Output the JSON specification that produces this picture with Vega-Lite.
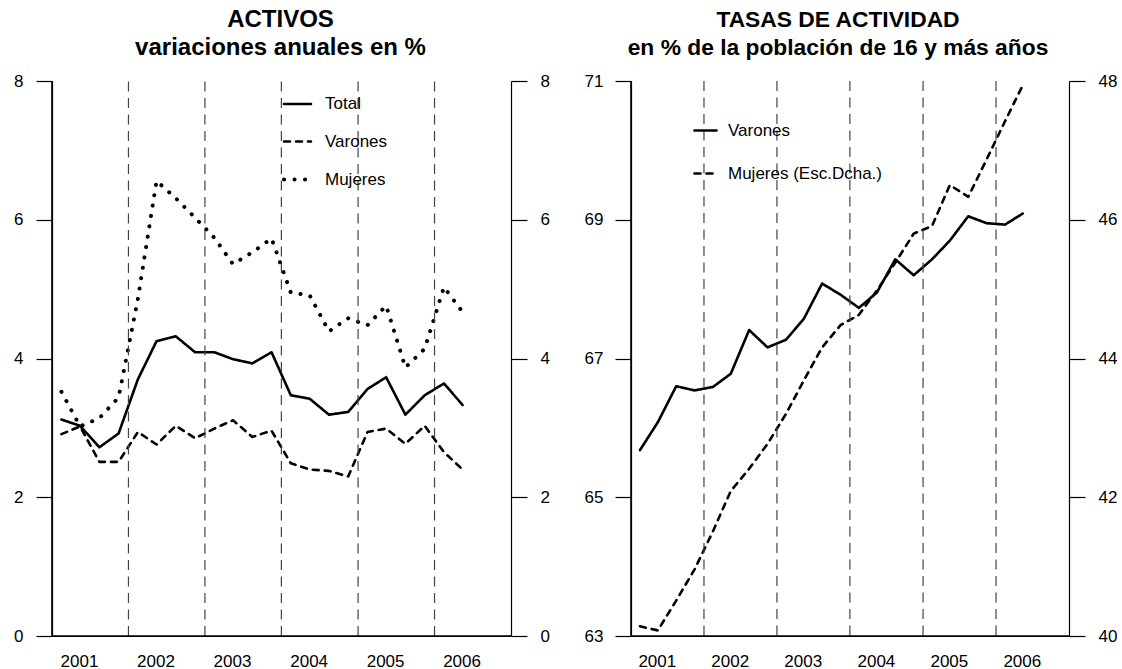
{
  "$schema": "https://vega.github.io/schema/vega-lite/v6.json",
  "padding": {"left": 0, "top": 8, "right": 0, "bottom": 0},
  "background": "white",
  "spacing": 30,
  "resolve": {"scale": {"strokeDash": "independent", "strokeWidth": "independent"}, "legend": {"strokeDash": "independent", "strokeWidth": "independent"}},
  "config": {
    "font": "Liberation Sans",
    "view": {"stroke": null},
    "title": {"font": "Liberation Sans", "fontWeight": "bold", "lineHeight": 28, "color": "black", "anchor": "middle", "offset": 12},
    "axis": {"labelFont": "Liberation Sans", "labelFontSize": 17, "labelColor": "black", "domainColor": "black", "tickColor": "black", "domainWidth": 1.2, "tickWidth": 1.2, "grid": false, "title": null},
    "legend": {"labelFont": "Liberation Sans", "labelFontSize": 17, "labelColor": "black"}
  },
  "datasets": {
    "bordes": [{"fecha": "2001-01-01"}],
    "cortes": [
      {"fecha": "2002-01-01"}, {"fecha": "2003-01-01"}, {"fecha": "2004-01-01"}, {"fecha": "2005-01-01"}, {"fecha": "2006-01-01"}
    ],
    "activos": [
      {"fecha": "2001-02-15", "serie": "Total", "valor": 3.12},
      {"fecha": "2001-05-15", "serie": "Total", "valor": 3.03},
      {"fecha": "2001-08-15", "serie": "Total", "valor": 2.72},
      {"fecha": "2001-11-15", "serie": "Total", "valor": 2.92},
      {"fecha": "2002-02-15", "serie": "Total", "valor": 3.70},
      {"fecha": "2002-05-15", "serie": "Total", "valor": 4.25},
      {"fecha": "2002-08-15", "serie": "Total", "valor": 4.32},
      {"fecha": "2002-11-15", "serie": "Total", "valor": 4.09},
      {"fecha": "2003-02-15", "serie": "Total", "valor": 4.09},
      {"fecha": "2003-05-15", "serie": "Total", "valor": 3.99},
      {"fecha": "2003-08-15", "serie": "Total", "valor": 3.93},
      {"fecha": "2003-11-15", "serie": "Total", "valor": 4.09},
      {"fecha": "2004-02-15", "serie": "Total", "valor": 3.47},
      {"fecha": "2004-05-15", "serie": "Total", "valor": 3.42},
      {"fecha": "2004-08-15", "serie": "Total", "valor": 3.19},
      {"fecha": "2004-11-15", "serie": "Total", "valor": 3.23},
      {"fecha": "2005-02-15", "serie": "Total", "valor": 3.56},
      {"fecha": "2005-05-15", "serie": "Total", "valor": 3.73},
      {"fecha": "2005-08-15", "serie": "Total", "valor": 3.19},
      {"fecha": "2005-11-15", "serie": "Total", "valor": 3.47},
      {"fecha": "2006-02-15", "serie": "Total", "valor": 3.64},
      {"fecha": "2006-05-15", "serie": "Total", "valor": 3.33},
      {"fecha": "2001-02-15", "serie": "Varones", "valor": 2.91},
      {"fecha": "2001-05-15", "serie": "Varones", "valor": 3.02},
      {"fecha": "2001-08-15", "serie": "Varones", "valor": 2.51},
      {"fecha": "2001-11-15", "serie": "Varones", "valor": 2.51},
      {"fecha": "2002-02-15", "serie": "Varones", "valor": 2.94},
      {"fecha": "2002-05-15", "serie": "Varones", "valor": 2.76},
      {"fecha": "2002-08-15", "serie": "Varones", "valor": 3.03},
      {"fecha": "2002-11-15", "serie": "Varones", "valor": 2.85},
      {"fecha": "2003-02-15", "serie": "Varones", "valor": 2.99},
      {"fecha": "2003-05-15", "serie": "Varones", "valor": 3.11},
      {"fecha": "2003-08-15", "serie": "Varones", "valor": 2.87},
      {"fecha": "2003-11-15", "serie": "Varones", "valor": 2.96},
      {"fecha": "2004-02-15", "serie": "Varones", "valor": 2.49},
      {"fecha": "2004-05-15", "serie": "Varones", "valor": 2.40},
      {"fecha": "2004-08-15", "serie": "Varones", "valor": 2.38},
      {"fecha": "2004-11-15", "serie": "Varones", "valor": 2.30},
      {"fecha": "2005-02-15", "serie": "Varones", "valor": 2.94},
      {"fecha": "2005-05-15", "serie": "Varones", "valor": 2.99},
      {"fecha": "2005-08-15", "serie": "Varones", "valor": 2.77},
      {"fecha": "2005-11-15", "serie": "Varones", "valor": 3.03},
      {"fecha": "2006-02-15", "serie": "Varones", "valor": 2.65},
      {"fecha": "2006-05-15", "serie": "Varones", "valor": 2.40},
      {"fecha": "2001-02-15", "serie": "Mujeres", "valor": 3.52},
      {"fecha": "2001-05-15", "serie": "Mujeres", "valor": 3.02},
      {"fecha": "2001-08-15", "serie": "Mujeres", "valor": 3.14},
      {"fecha": "2001-11-15", "serie": "Mujeres", "valor": 3.44},
      {"fecha": "2002-02-15", "serie": "Mujeres", "valor": 4.86},
      {"fecha": "2002-05-15", "serie": "Mujeres", "valor": 6.56},
      {"fecha": "2002-08-15", "serie": "Mujeres", "valor": 6.31},
      {"fecha": "2002-11-15", "serie": "Mujeres", "valor": 6.03},
      {"fecha": "2003-02-15", "serie": "Mujeres", "valor": 5.74},
      {"fecha": "2003-05-15", "serie": "Mujeres", "valor": 5.36},
      {"fecha": "2003-08-15", "serie": "Mujeres", "valor": 5.53},
      {"fecha": "2003-11-15", "serie": "Mujeres", "valor": 5.73},
      {"fecha": "2004-02-15", "serie": "Mujeres", "valor": 4.95},
      {"fecha": "2004-05-15", "serie": "Mujeres", "valor": 4.91},
      {"fecha": "2004-08-15", "serie": "Mujeres", "valor": 4.39},
      {"fecha": "2004-11-15", "serie": "Mujeres", "valor": 4.58},
      {"fecha": "2005-02-15", "serie": "Mujeres", "valor": 4.48},
      {"fecha": "2005-05-15", "serie": "Mujeres", "valor": 4.76},
      {"fecha": "2005-08-15", "serie": "Mujeres", "valor": 3.87},
      {"fecha": "2005-11-15", "serie": "Mujeres", "valor": 4.14},
      {"fecha": "2006-02-15", "serie": "Mujeres", "valor": 5.03},
      {"fecha": "2006-05-15", "serie": "Mujeres", "valor": 4.67}
    ],
    "tasas": [
      {"fecha": "2001-02-15", "serie": "Varones", "valor": 65.68},
      {"fecha": "2001-05-15", "serie": "Varones", "valor": 66.08},
      {"fecha": "2001-08-15", "serie": "Varones", "valor": 66.60},
      {"fecha": "2001-11-15", "serie": "Varones", "valor": 66.54},
      {"fecha": "2002-02-15", "serie": "Varones", "valor": 66.59},
      {"fecha": "2002-05-15", "serie": "Varones", "valor": 66.78},
      {"fecha": "2002-08-15", "serie": "Varones", "valor": 67.41},
      {"fecha": "2002-11-15", "serie": "Varones", "valor": 67.16},
      {"fecha": "2003-02-15", "serie": "Varones", "valor": 67.27},
      {"fecha": "2003-05-15", "serie": "Varones", "valor": 67.57},
      {"fecha": "2003-08-15", "serie": "Varones", "valor": 68.08},
      {"fecha": "2003-11-15", "serie": "Varones", "valor": 67.92},
      {"fecha": "2004-02-15", "serie": "Varones", "valor": 67.73},
      {"fecha": "2004-05-15", "serie": "Varones", "valor": 67.95},
      {"fecha": "2004-08-15", "serie": "Varones", "valor": 68.43},
      {"fecha": "2004-11-15", "serie": "Varones", "valor": 68.20},
      {"fecha": "2005-02-15", "serie": "Varones", "valor": 68.43},
      {"fecha": "2005-05-15", "serie": "Varones", "valor": 68.70},
      {"fecha": "2005-08-15", "serie": "Varones", "valor": 69.05},
      {"fecha": "2005-11-15", "serie": "Varones", "valor": 68.95},
      {"fecha": "2006-02-15", "serie": "Varones", "valor": 68.93},
      {"fecha": "2006-05-15", "serie": "Varones", "valor": 69.09},
      {"fecha": "2001-02-15", "serie": "Mujeres (Esc.Dcha.)", "valor": 40.14},
      {"fecha": "2001-05-15", "serie": "Mujeres (Esc.Dcha.)", "valor": 40.08},
      {"fecha": "2001-08-15", "serie": "Mujeres (Esc.Dcha.)", "valor": 40.51},
      {"fecha": "2001-11-15", "serie": "Mujeres (Esc.Dcha.)", "valor": 40.96},
      {"fecha": "2002-02-15", "serie": "Mujeres (Esc.Dcha.)", "valor": 41.51},
      {"fecha": "2002-05-15", "serie": "Mujeres (Esc.Dcha.)", "valor": 42.09},
      {"fecha": "2002-08-15", "serie": "Mujeres (Esc.Dcha.)", "valor": 42.41},
      {"fecha": "2002-11-15", "serie": "Mujeres (Esc.Dcha.)", "valor": 42.77},
      {"fecha": "2003-02-15", "serie": "Mujeres (Esc.Dcha.)", "valor": 43.20},
      {"fecha": "2003-05-15", "serie": "Mujeres (Esc.Dcha.)", "valor": 43.68},
      {"fecha": "2003-08-15", "serie": "Mujeres (Esc.Dcha.)", "valor": 44.16},
      {"fecha": "2003-11-15", "serie": "Mujeres (Esc.Dcha.)", "valor": 44.48},
      {"fecha": "2004-02-15", "serie": "Mujeres (Esc.Dcha.)", "valor": 44.63},
      {"fecha": "2004-05-15", "serie": "Mujeres (Esc.Dcha.)", "valor": 44.98},
      {"fecha": "2004-08-15", "serie": "Mujeres (Esc.Dcha.)", "valor": 45.38},
      {"fecha": "2004-11-15", "serie": "Mujeres (Esc.Dcha.)", "valor": 45.80},
      {"fecha": "2005-02-15", "serie": "Mujeres (Esc.Dcha.)", "valor": 45.91},
      {"fecha": "2005-05-15", "serie": "Mujeres (Esc.Dcha.)", "valor": 46.50},
      {"fecha": "2005-08-15", "serie": "Mujeres (Esc.Dcha.)", "valor": 46.33},
      {"fecha": "2005-11-15", "serie": "Mujeres (Esc.Dcha.)", "valor": 46.87},
      {"fecha": "2006-02-15", "serie": "Mujeres (Esc.Dcha.)", "valor": 47.42},
      {"fecha": "2006-05-15", "serie": "Mujeres (Esc.Dcha.)", "valor": 47.94}
    ]
  },
  "hconcat": [
    {
      "width": 459,
      "height": 555,
      "title": {"text": ["ACTIVOS", "variaciones anuales en %"], "dx": -1, "fontSize": 24},
      "layer": [
        {
          "data": {"name": "activos"},
          "mark": {"type": "line", "color": "black", "strokeCap": "round", "strokeJoin": "round"},
          "encoding": {
            "x": {
              "field": "fecha", "type": "temporal",
              "scale": {"type": "utc", "domain": ["2001-01-01", "2007-01-01"]},
              "axis": {"values": ["2001-05-10", "2002-05-10", "2003-05-10", "2004-05-10", "2005-05-10", "2006-05-10"], "format": "%Y", "tickSize": 0, "labelPadding": 17, "labelFlush": false, "labelOverlap": false, "title": null}
            },
            "y": {"field": "valor", "type": "quantitative", "scale": {"domain": [0, 8]}, "axis": {"orient": "left", "values": [0, 2, 4, 6, 8], "tickSize": 16, "labelPadding": 13, "minExtent": 52, "maxExtent": 52, "title": null}},
            "strokeDash": {
              "field": "serie", "type": "nominal",
              "scale": {"domain": ["Total", "Varones", "Mujeres"], "range": [[1, 0], [6, 6], [0.1, 10.4]]},
              "legend": {"title": null, "orient": "none", "legendX": 230, "legendY": 8, "padding": 0, "symbolType": "stroke", "symbolSize": 729, "symbolStrokeColor": "black", "labelOffset": 12, "rowPadding": 14.5, "encode": {"symbols": {"update": {"strokeCap": {"value": "round"}, "strokeWidth": {"signal": "datum.value === 'Mujeres' ? 4 : 2.6"}}}}}
            },
            "strokeWidth": {
              "field": "serie", "type": "nominal",
              "scale": {"type": "ordinal", "domain": ["Total", "Varones", "Mujeres"], "range": [2.6, 2.6, 4]},
              "legend": null
            }
          }
        },
        {
          "data": {"name": "cortes"},
          "mark": {"type": "rule", "strokeDash": [10, 6.5], "color": "#444", "strokeWidth": 1.2},
          "encoding": {
            "x": {
              "field": "fecha", "type": "temporal",
              "scale": {"type": "utc", "domain": ["2001-01-01", "2007-01-01"]},
              "axis": {"values": ["2001-05-10", "2002-05-10", "2003-05-10", "2004-05-10", "2005-05-10", "2006-05-10"], "format": "%Y", "tickSize": 0, "labelPadding": 17, "labelFlush": false, "labelOverlap": false, "title": null}
            },
            "y": {"datum": 0, "type": "quantitative", "axis": {"orient": "right", "values": [0, 2, 4, 6, 8], "tickSize": 16, "labelPadding": 13, "minExtent": 40, "maxExtent": 40, "title": null}},
            "y2": {"datum": 8}
          }
        },
        {
          "data": {"name": "bordes"},
          "mark": {"type": "rule", "color": "black", "strokeWidth": 1.6},
          "encoding": {
            "x": {
              "field": "fecha", "type": "temporal",
              "scale": {"type": "utc", "domain": ["2001-01-01", "2007-01-01"]},
              "axis": {"values": ["2001-05-10", "2002-05-10", "2003-05-10", "2004-05-10", "2005-05-10", "2006-05-10"], "format": "%Y", "tickSize": 0, "labelPadding": 17, "labelFlush": false, "labelOverlap": false, "title": null}
            }
          }
        },
        {
          "data": {"name": "bordes"},
          "mark": {"type": "rule", "color": "black", "strokeWidth": 1.6},
          "encoding": {
            "y": {"datum": 0, "type": "quantitative", "axis": null}
          }
        }
      ],
      "resolve": {"axis": {"y": "independent"}}
    },
    {
      "width": 438,
      "height": 555,
      "title": {"text": ["TASAS DE ACTIVIDAD", "en % de la población de 16 y más años"], "dx": -12, "fontSize": 22.8},
      "layer": [
        {
          "data": {"name": "tasas"},
          "transform": [{"filter": "datum.serie === 'Varones'"}],
          "mark": {"type": "line", "color": "black", "strokeWidth": 2.6, "strokeCap": "round", "strokeJoin": "round"},
          "encoding": {
            "x": {
              "field": "fecha", "type": "temporal",
              "scale": {"type": "utc", "domain": ["2001-01-01", "2007-01-01"]},
              "axis": {"values": ["2001-05-10", "2002-05-10", "2003-05-10", "2004-05-10", "2005-05-10", "2006-05-10"], "format": "%Y", "tickSize": 0, "labelPadding": 17, "labelFlush": false, "labelOverlap": false, "title": null}
            },
            "y": {"field": "valor", "type": "quantitative", "scale": {"domain": [63, 71]}, "axis": {"orient": "left", "values": [63, 65, 67, 69, 71], "tickSize": 16, "labelPadding": 12, "minExtent": 50, "maxExtent": 50, "title": null}},
            "strokeDash": {
              "field": "serie", "type": "nominal",
              "scale": {"domain": ["Varones", "Mujeres (Esc.Dcha.)"], "range": [[1, 0], [6, 6]]},
              "legend": {"title": null, "orient": "none", "legendX": 62, "legendY": 37, "padding": 0, "symbolType": "stroke", "symbolSize": 484, "symbolStrokeColor": "black", "symbolStrokeWidth": 2.6, "labelOffset": 10, "rowPadding": 22, "encode": {"symbols": {"update": {"strokeCap": {"value": "round"}}}}}
            }
          }
        },
        {
          "data": {"name": "tasas"},
          "transform": [{"filter": "datum.serie === 'Mujeres (Esc.Dcha.)'"}],
          "mark": {"type": "line", "color": "black", "strokeWidth": 2.6, "strokeCap": "round", "strokeJoin": "round"},
          "encoding": {
            "x": {
              "field": "fecha", "type": "temporal",
              "scale": {"type": "utc", "domain": ["2001-01-01", "2007-01-01"]},
              "axis": {"values": ["2001-05-10", "2002-05-10", "2003-05-10", "2004-05-10", "2005-05-10", "2006-05-10"], "format": "%Y", "tickSize": 0, "labelPadding": 17, "labelFlush": false, "labelOverlap": false, "title": null}
            },
            "y": {"field": "valor", "type": "quantitative", "scale": {"domain": [40, 48]}, "axis": {"orient": "right", "values": [40, 42, 44, 46, 48], "tickSize": 16, "labelPadding": 13, "title": null}},
            "strokeDash": {
              "field": "serie", "type": "nominal",
              "scale": {"domain": ["Varones", "Mujeres (Esc.Dcha.)"], "range": [[1, 0], [6, 6]]},
              "legend": {"title": null, "orient": "none", "legendX": 62, "legendY": 37, "padding": 0, "symbolType": "stroke", "symbolSize": 484, "symbolStrokeColor": "black", "symbolStrokeWidth": 2.6, "labelOffset": 10, "rowPadding": 22, "encode": {"symbols": {"update": {"strokeCap": {"value": "round"}}}}}
            }
          }
        },
        {
          "data": {"name": "cortes"},
          "mark": {"type": "rule", "strokeDash": [10, 6.5], "color": "#444", "strokeWidth": 1.2},
          "encoding": {
            "x": {
              "field": "fecha", "type": "temporal",
              "scale": {"type": "utc", "domain": ["2001-01-01", "2007-01-01"]},
              "axis": {"values": ["2001-05-10", "2002-05-10", "2003-05-10", "2004-05-10", "2005-05-10", "2006-05-10"], "format": "%Y", "tickSize": 0, "labelPadding": 17, "labelFlush": false, "labelOverlap": false, "title": null}
            }
          }
        },
        {
          "data": {"name": "bordes"},
          "mark": {"type": "rule", "color": "black", "strokeWidth": 1.6},
          "encoding": {
            "x": {
              "field": "fecha", "type": "temporal",
              "scale": {"type": "utc", "domain": ["2001-01-01", "2007-01-01"]},
              "axis": {"values": ["2001-05-10", "2002-05-10", "2003-05-10", "2004-05-10", "2005-05-10", "2006-05-10"], "format": "%Y", "tickSize": 0, "labelPadding": 17, "labelFlush": false, "labelOverlap": false, "title": null}
            }
          }
        },
        {
          "data": {"name": "bordes"},
          "mark": {"type": "rule", "color": "black", "strokeWidth": 1.6},
          "encoding": {
            "y": {"datum": 63, "type": "quantitative", "scale": {"domain": [63, 71]}, "axis": null}
          }
        }
      ],
      "resolve": {"scale": {"y": "independent"}}
    }
  ]
}
